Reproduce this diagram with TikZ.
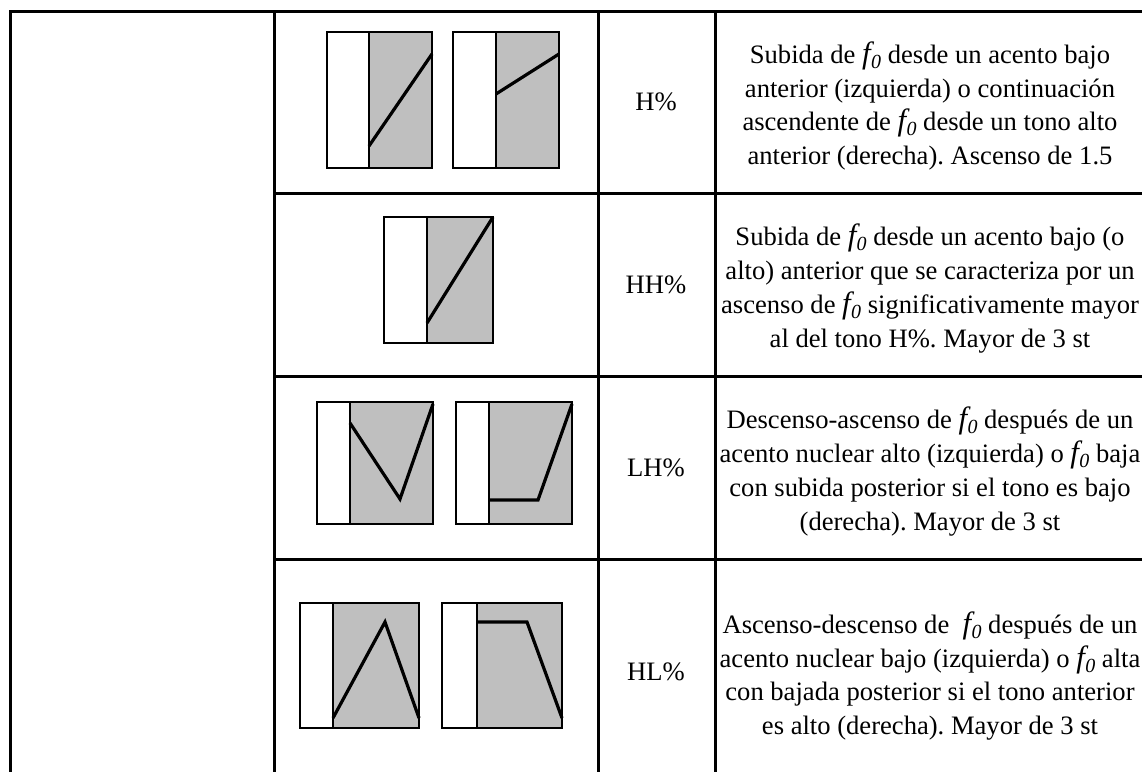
\documentclass[tikz,border=0pt]{standalone}
\usepackage{fontspec}
\setmainfont{Liberation Serif}
\frenchspacing
\colorlet{panelgray}{black!25}
\def\fz{\textit{\fontsize{15.4}{15}\selectfont f\kern0.2pt\raisebox{-0.35ex}{\fontsize{10}{10}\selectfont 0}}}
\newcommand{\tonepanel}[5]{%
  \fill[panelgray] (#5,#2) rectangle (#3,#4);
  \draw[panel] (#1,#2) rectangle (#3,#4);
  \draw[panel] (#5,#2) -- (#5,#4);}

\begin{document}
\begin{tikzpicture}
    [x=0.5pt,y=-0.5pt,
      grid/.style={line width=1.5pt},
      panel/.style={line width=0.9pt},
      contour/.style={line width=1.6pt,line join=miter},
      tonelabel/.style={font=\fontsize{13.3}{17}\selectfont},
      tonetext/.style={font=\fontsize{13.3}{16.85}\selectfont,align=center,inner sep=0pt}]

    \useasboundingbox (0,0) rectangle (1142,772);
    \clip (0,0) rectangle (1142,772);

    % table rules
    \draw[grid] (10,772) |- (1150,11);
    \foreach \cx in {274,598,715} \draw[grid] (\cx,11) -- (\cx,772);
    \foreach \ry in {193,376,559} \draw[grid] (274,\ry) -- (1150,\ry);

    % H%
    \tonepanel{327}{32}{432}{168}{369}
    \draw[contour] (369,146) -- (432,54);
    \tonepanel{453}{32}{559}{168}{496}
    \draw[contour] (496,94) -- (559,54);
    % HH%
    \tonepanel{384}{217}{493}{343}{427}
    \draw[contour] (427,323) -- (493,217);
    % LH%
    \tonepanel{317}{402}{433}{524}{350}
    \draw[contour] (350,423) -- (400,499) -- (433,404);
    \tonepanel{456}{402}{572}{524}{489}
    \draw[contour] (489,500) -- (538,500) -- (572,404);
    % HL%
    \tonepanel{300}{603}{419}{728}{333}
    \draw[contour] (333,718) -- (385,622) -- (419,718);
    \tonepanel{442}{603}{562}{728}{477}
    \draw[contour] (477,622) -- (527,622) -- (562,718);

    \node[tonelabel] (lblH) at (656,102) {H\%};
    \node[tonelabel] (lblHH) at (656,284.5) {HH\%};
    \node[tonelabel] (lblLH) at (656,467.5) {LH\%};
    \node[tonelabel] (lblHL) at (656,672) {HL\%};

    \node[tonetext] (txtH) at (930,106) {Subida de \fz{} desde un acento bajo\\
      anterior (izquierda) o continuación\\
      ascendente de \fz{} desde un tono alto\\
      anterior (derecha). Ascenso de 1.5};
    \node[tonetext] (txtHH) at (930,288.5) {Subida de \fz{} desde un acento bajo (o\\
      alto) anterior que se caracteriza por un\\
      ascenso de \fz{} significativamente mayor\\
      al del tono H\%. Mayor de 3 st};
    \node[tonetext] (txtLH) at (930,471.5) {Descenso-ascenso de \fz{} después de un\\
      acento nuclear alto (izquierda) o \fz{} baja\\
      con subida posterior si el tono es bajo\\
      (derecha). Mayor de 3 st};
    \node[tonetext] (txtHL) at (930,676) {Ascenso-descenso de~ \fz{} después de un\\
      acento nuclear bajo (izquierda) o \fz{} alta\\
      con bajada posterior si el tono anterior\\
      es alto (derecha). Mayor de 3 st};

\end{tikzpicture}
\end{document}
